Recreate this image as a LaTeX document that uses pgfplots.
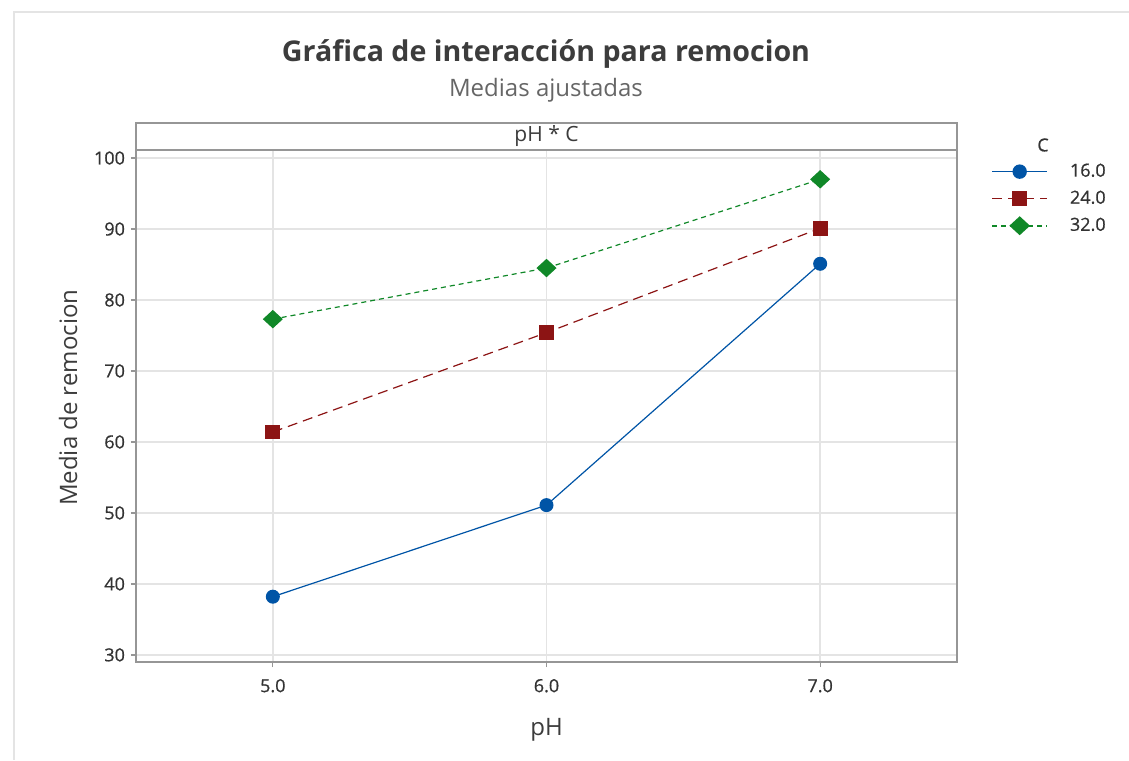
\documentclass[border=0pt]{standalone}
\usepackage{pgfplots}
\pgfplotsset{compat=1.18}
\usepackage{fontspec}
\setmainfont{Open Sans}
\newfontfamily\semib[FakeBold=0.7]{Open Sans}
\definecolor{cblue}{RGB}{0,84,166}
\definecolor{cred}{RGB}{140,20,20}
\definecolor{cgreen}{RGB}{16,136,40}
\definecolor{frame}{RGB}{150,150,150}
\definecolor{gridc}{RGB}{228,228,228}
\definecolor{txt}{RGB}{60,60,60}
\begin{document}
\begin{tikzpicture}
\path[use as bounding box] (0,0) rectangle (564.5pt,380pt);
\draw[gridc,line width=0.6pt] (7pt,0) -- (7pt,374pt) -- (564.5pt,374pt);
\node[font=\bfseries\fontsize{14.3}{16}\selectfont,text=txt] at (273pt,353pt) {Gráfica de interacción para remocion};
\node[font=\fontsize{12}{14}\selectfont,text=black!60] at (273pt,335pt) {Medias ajustadas};
\begin{axis}[
  at={(68pt,49pt)}, anchor=south west,
  scale only axis, width=410.5pt, height=256pt,
  xmin=4.5, xmax=7.5, ymin=29, ymax=101.13,
  xtick={5,6,7}, xticklabels={5.0,6.0,7.0},
  ytick={30,40,...,100},
  tick pos=left, tick align=outside,
  major tick length=2.5pt,
  tick style={frame,line width=0.6pt},
  axis line style={frame,line width=0.8pt},
  grid=major, grid style={gridc,line width=0.8pt},
  ticklabel style={font=\semib\fontsize{9}{10}\selectfont,text=black!80},
  /pgf/number format/assume math mode=true,
  xticklabel style={yshift=-2.5pt},
  yticklabel style={xshift=0.5pt},
  xlabel={pH}, ylabel={Media de remocion},
  label style={font=\fontsize{12}{14}\selectfont,text=txt},
  xlabel style={at={(axis description cs:0.5,-0.1328)},anchor=center},
  ylabel style={at={(axis description cs:-0.0828,0.516)},anchor=center,rotate=0},
  clip=false,
  legend style={at={(axis description cs:1.0414,0.982)},anchor=north west,draw=none,fill=none,
     font=\semib\fontsize{9}{10}\selectfont,row sep=1.5pt,inner sep=0pt,text=black!80,
     /tikz/every even column/.append style={column sep=0pt}},
  legend cell align=left,
  legend image code/.code={\draw[mark repeat=2,mark phase=2,line width=0.8pt] plot coordinates {(0pt,0pt) (13.75pt,0pt) (27.5pt,0pt)};},
]
\draw[frame,line width=0.8pt,fill=white] (rel axis cs:0,1) rectangle (rel axis cs:1,1.0527);
\node[font=\fontsize{10.5}{12}\selectfont,text=txt] at (rel axis cs:0.5,1.0264) {pH * C};
\addplot[cblue,line width=0.6pt,mark=*,mark size=3.2pt,mark options={solid,fill=cblue}]
  coordinates {(5,38.2) (6,51.1) (7,85.1)};
\addlegendentry{\hspace{9pt}16.0}
\addplot[cred,line width=0.6pt,dash pattern=on 5pt off 3pt,mark=square*,mark size=3.4pt,mark options={solid,fill=cred}]
  coordinates {(5,61.4) (6,75.4) (7,90.1)};
\addlegendentry{\hspace{9pt}24.0}
\addplot[cgreen,line width=0.6pt,dash pattern=on 2.5pt off 2pt,mark=diamond*,mark size=4.2pt,mark options={solid,fill=cgreen,xscale=1.45}]
  coordinates {(5,77.3) (6,84.5) (7,97.0)};
\addlegendentry{\hspace{9pt}32.0}
\node[font=\semib\fontsize{9}{10}\selectfont,text=black!80] at (axis description cs:1.1048,1.0098) {C};
\end{axis}
\end{tikzpicture}
\end{document}
